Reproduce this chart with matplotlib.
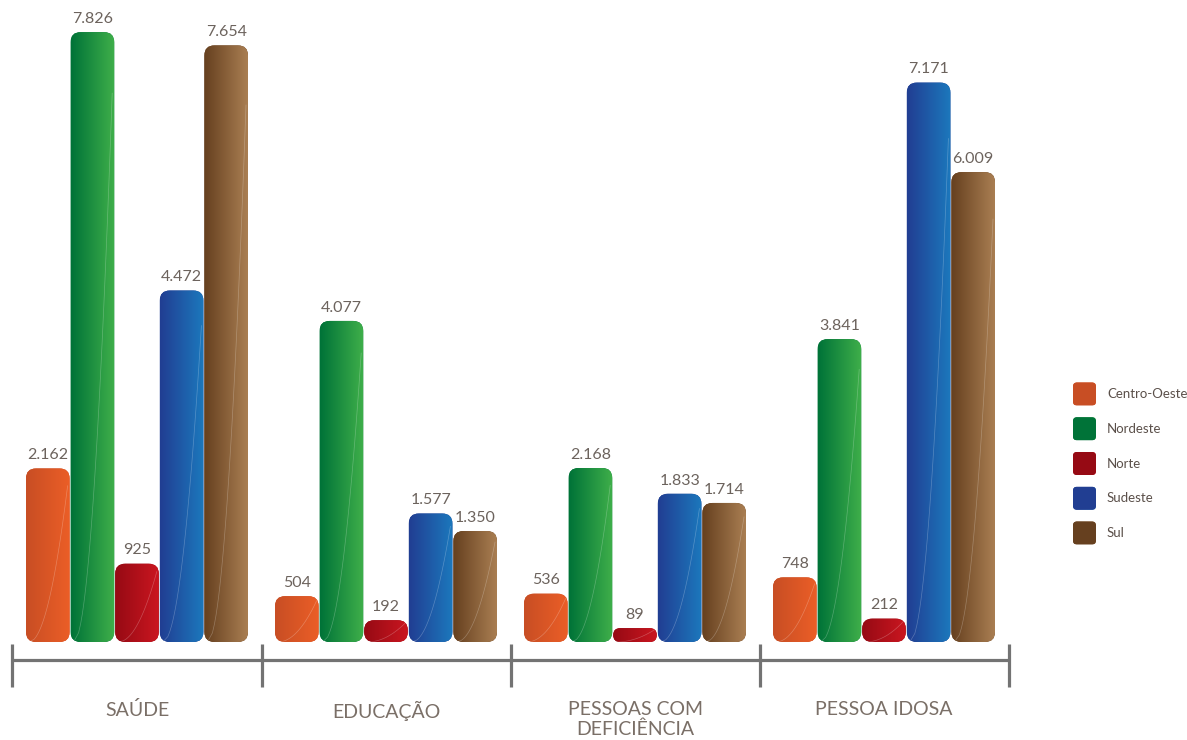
import matplotlib
matplotlib.use("Agg")
import matplotlib.pyplot as plt
import numpy as np
from matplotlib.patches import FancyBboxPatch
from matplotlib.colors import LinearSegmentedColormap

plt.rcParams['font.family'] = ['Lato', 'DejaVu Sans']

# ---- data ----
categories = ["SAÚDE", "EDUCAÇÃO", "PESSOAS COM\nDEFICIÊNCIA", "PESSOA IDOSA"]
regions = ["Centro-Oeste", "Nordeste", "Norte", "Sudeste", "Sul"]
centro_oeste = [2162, 504, 536, 748]
nordeste = [7826, 4077, 2168, 3841]
norte = [925, 192, 89, 212]
sudeste = [4472, 1577, 1833, 7171]
sul = [7654, 1350, 1714, 6009]
series = [centro_oeste, nordeste, norte, sudeste, sul]

grad_left = ["#C84E24", "#007338", "#960A14", "#213E92", "#66401F"]
grad_right = ["#EB5E27", "#3FAF4A", "#CA1620", "#1C78BD", "#A97E52"]

TEXT = "#7a6f67"
VAL = "#6c635d"
AXC = "#737373"

W, H = 1187, 740
fig = plt.figure(figsize=(W / 100, H / 100), dpi=100)
ax = fig.add_axes([0, 0, 1, 1])

# pixel mapping (from top-left) helpers for layout
X_C0, X_STEP = 137.0, 249.0           # group 0 center px, group spacing px
Z_PX, PX_PER_UNIT = 638.5, 0.07703    # zero line px, vertical scale
xu = 1.0 / X_STEP                     # x data units per px
yu = 1.0 / PX_PER_UNIT                # y data units per px
ax.set_xlim(-X_C0 * xu, (W - X_C0) * xu)
ax.set_ylim(-(H - Z_PX) * yu, Z_PX * yu)
ax.axis("off")

def ypx(p):
    return (Z_PX - p) * yu

pitch = 44.6 * xu
bw = 43.6 * xu
pad_px = 3.5
aspect = yu / xu

for j, vals in enumerate(series):
    cmap = LinearSegmentedColormap.from_list(f"g{j}", [grad_left[j], grad_right[j]])
    for i, v in enumerate(vals):
        xc = i + (j - 2) * pitch
        h_px = v * PX_PER_UNIT + 2 * pad_px
        r_px = min(10.0, h_px / 2.0)
        x0 = xc - bw / 2 + pad_px * xu
        w_in = bw - 2 * pad_px * xu
        patch = FancyBboxPatch((x0, 0), w_in, v,
                               boxstyle=f"round,pad={pad_px * xu},rounding_size={r_px * xu}",
                               mutation_aspect=aspect, facecolor=grad_left[j],
                               edgecolor="none", zorder=2)
        ax.add_patch(patch)
        grad = np.linspace(0, 1, 64).reshape(1, -1)
        im = ax.imshow(grad, cmap=cmap, aspect="auto",
                       extent=[xc - bw / 2, xc + bw / 2, -pad_px * yu, v + pad_px * yu],
                       zorder=3, interpolation="bilinear")
        im.set_clip_path(patch)
        # faint decorative highlight curve
        t = np.linspace(0, 1, 60)
        cx = (xc - bw / 2 + 3 * xu) + (bw - 5 * xu) * t ** 0.5
        cy = -pad_px * yu + (v + 2 * pad_px * yu) * 0.9 * t
        ln, = ax.plot(cx, cy, color="white", lw=0.5, alpha=0.25, zorder=4)
        ln.set_clip_path(patch)
        ax.annotate(f"{v:,}".replace(",", "."), (xc, v + pad_px * yu),
                    xytext=(0, 4.5), textcoords="offset points",
                    ha="center", va="bottom", fontsize=11.5, color=VAL, zorder=5)

# category axis
n = len(categories)
ax.plot([-0.5, n - 0.5], [ypx(660)] * 2, color=AXC, lw=2.3, solid_capstyle="butt", zorder=1)
for k in range(n + 1):
    ax.plot([k - 0.5] * 2, [ypx(644), ypx(687)], color=AXC, lw=2.3,
            solid_capstyle="butt", zorder=1)
for i, c in enumerate(categories):
    ax.text(i, ypx(701), c, ha="center", va="top", fontsize=14, color=TEXT,
            linespacing=1.15)

# legend (pixel overlay)
lax = fig.add_axes([0, 0, 1, 1])
lax.set_xlim(0, W)
lax.set_ylim(H, 0)
lax.axis("off")
for j, name in enumerate(regions):
    cy = 394 + j * 34.75
    cmap = LinearSegmentedColormap.from_list(f"l{j}", [grad_left[j], grad_right[j]])
    p = FancyBboxPatch((1075, cy - 9.5), 19, 19,
                       boxstyle="round,pad=2,rounding_size=4",
                       facecolor=grad_left[j], edgecolor="none")
    lax.add_patch(p)
    im = lax.imshow(np.linspace(0, 1, 32).reshape(1, -1), cmap=cmap, aspect="auto",
                    extent=[1073, 1096, cy + 11.5, cy - 11.5], interpolation="bilinear")
    im.set_clip_path(p)
    lax.text(1107, cy, name, ha="left", va="center", fontsize=9.5, color="#5b504a")
lax.set_xlim(0, W)
lax.set_ylim(H, 0)

fig.savefig("out.png", dpi=100)
